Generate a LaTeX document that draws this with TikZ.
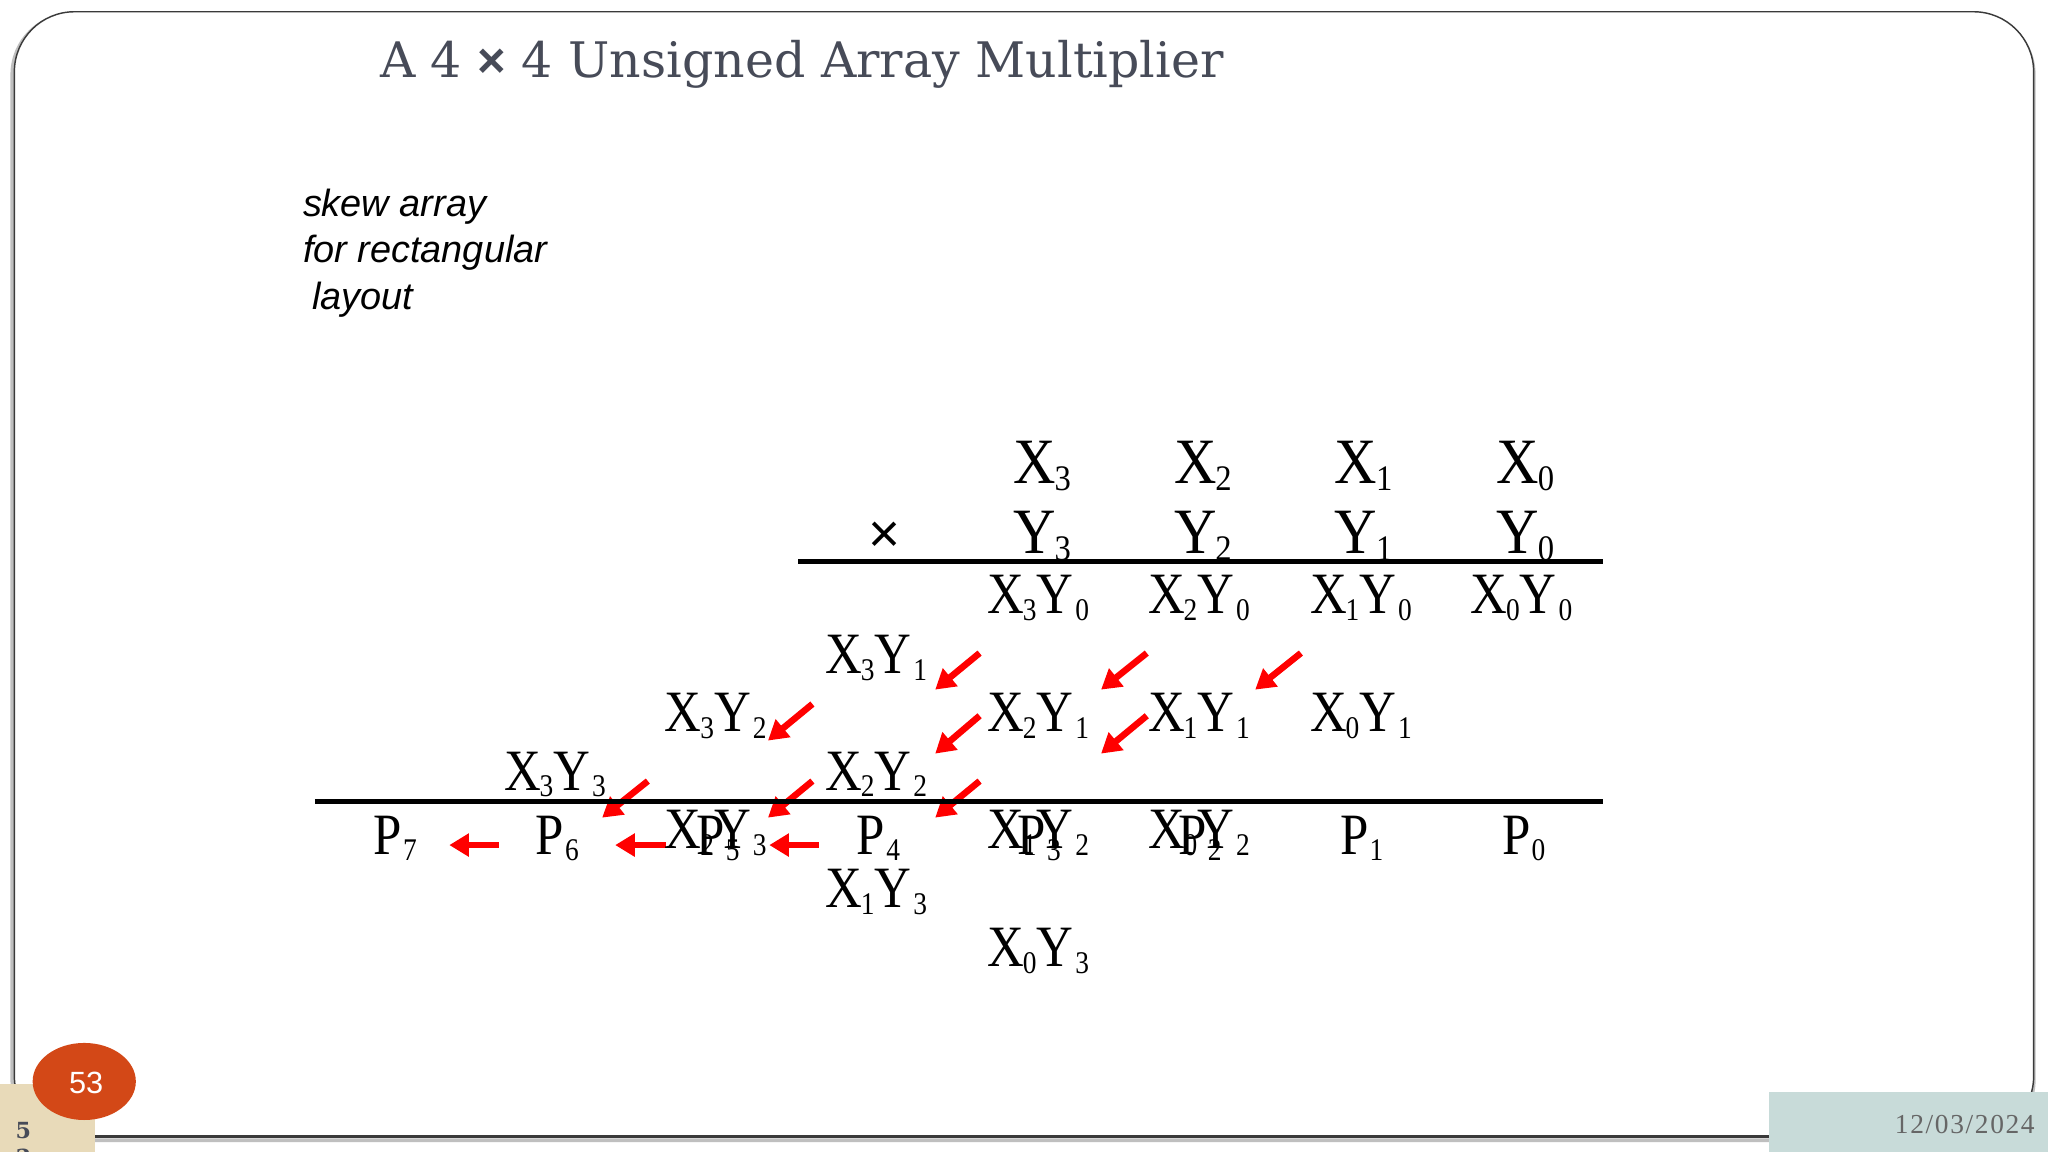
\documentclass[tikz,border=0pt]{standalone}
\usepackage{fontspec}
\usepackage{graphicx}
\usetikzlibrary{arrows.meta,shadows}
\setmainfont{Liberation Serif}
\newfontfamily\sansf{Liberation Sans}
\newfontfamily\titlef{DejaVu Serif}
\newfontfamily\datef[LetterSpace=6]{Liberation Serif}
\newcommand{\fsz}[1]{\fontsize{#1}{#1}\selectfont}
\newcommand{\subdigit}[2]{\raisebox{-4.5pt}{\fsz{#1}#2}}
% small product term, X_a Y_b
\newcommand{\prodterm}[2]{\scalebox{1}[1.15]{\fsz{39}X\hspace{-1pt}\subdigit{21}{#1}Y\hspace{1.5pt}\subdigit{21}{#2}}}
\newcommand{\pterm}[1]{\scalebox{1}[1.15]{\fsz{39}P\hspace{1pt}\subdigit{21}{#1}}}
\newcommand{\bigterm}[2]{\scalebox{1}[1.1]{\fsz{45}#1\hspace{-1pt}\raisebox{-5pt}{\fsz{25}#2}}}
\definecolor{framec}{HTML}{3A3A3A}
\definecolor{titlec}{HTML}{474B58}
\definecolor{arrowc}{HTML}{FF0000}
\definecolor{tanc}{HTML}{E8DAB9}
\definecolor{tealc}{HTML}{C8DBD9}
\definecolor{orangec}{HTML}{D34817}
\tikzset{
  x=1pt,y=-1pt,
  term/.style={anchor=base west,inner sep=0pt,outer sep=0pt,text=black},
  redarrow/.style={draw=arrowc,line width=5pt,-{Triangle[length=15pt,width=17pt,fill=arrowc]}},
  rulebar/.style={draw=black,line width=3.8pt},
}
\begin{document}
\begin{tikzpicture}
\useasboundingbox (0,0) rectangle (1568,882);
\begin{scope}
\clip (0,0) rectangle (1568,882);
\fill[white] (0,0) rectangle (1568,882);
% slide frame with soft shadow
\draw[black!25,line width=3pt,rounded corners=46pt] (9.5,11) rectangle (1557,873);
\draw[fill=white,draw=framec,line width=1.1pt,rounded corners=46pt] (11,9) rectangle (1557,870);
\draw[framec,line width=2pt] (60,870) -- (1400,870);
% title and note
\node[term,text=titlec] (title) at (291,59) {\titlef\fsz{37.5}A 4 {\sansf\bfseries ×} 4 Unsigned Array Multiplier};
\node[term] (note1) at (232,166) {\sansf\itshape\fsz{29}skew array};
\node[term] (note2) at (232,201) {\sansf\itshape\fsz{29}for rectangular};
\node[term] (note3) at (239,237) {\sansf\itshape\fsz{29}layout};
% red arrows
\foreach \n/\ax/\ay/\bx/\by in {
  a/750/500/716/528, b/878/500/843/528, c/996/500/961/528,
  d/622/539/588/567, e/750/548/716/577, f/878/548/843/577,
  g/496/598/461/626, h/622/598/588/626, i/750/598/716/626,
  j/382/647/344/647, k/510/647/471/647, l/627/647/589/647}{
  \coordinate (\n0) at (\ax,\ay);
  \coordinate (\n1) at (\bx,\by);
  \draw[redarrow] (\n0) -- (\n1);
}
% rules
\coordinate (r1a) at (611,430); \coordinate (r1b) at (1227,430);
\coordinate (r2a) at (241,613.5); \coordinate (r2b) at (1227,613.5);
\draw[rulebar] (r1a) -- (r1b);
\draw[rulebar] (r2a) -- (r2b);
% operands
\node[term] (x3) at (776,370) {\bigterm{X}{3}};
\node[term] (x2) at (899,370) {\bigterm{X}{2}};
\node[term] (x1) at (1022,370) {\bigterm{X}{1}};
\node[term] (x0) at (1146,370) {\bigterm{X}{0}};
\node[term] (y3) at (776,424) {\bigterm{Y}{3}};
\node[term] (y2) at (899,424) {\bigterm{Y}{2}};
\node[term] (y1) at (1022,424) {\bigterm{Y}{1}};
\node[term] (y0) at (1146,424) {\bigterm{Y}{0}};
\node[inner sep=0pt] (times) at (677,411) {\sansf\fsz{42}×};
% partial products
\foreach \a/\b/\px/\py in {
  3/0/756/470, 2/0/879/470, 1/0/1003/470, 0/0/1126/470,
  3/1/632/516, 2/1/756/560, 1/1/879/560, 0/1/1003/560,
  3/2/509/560, 2/2/632/605, 1/2/756/650, 0/2/879/650,
  3/3/386/605, 2/3/509/650, 1/3/632/695, 0/3/756/740}{
  \node[term] (pp\a\b) at (\px,\py) {\prodterm{\a}{\b}};
}
% product bits
\foreach \k/\px in {7/286,6/410,5/533,4/656,3/779,2/902,1/1026,0/1150}{
  \node[term] (p\k) at (\px,654) {\pterm{\k}};
}
% footer
\fill[tanc] (0,830) rectangle (73,882);
\node[term,align=center,text=titlec] (num) at (12,872) {\titlef\bfseries\fsz{17}5};
\node[term,text=titlec] (num2) at (12,892) {\titlef\bfseries\fsz{17}3};
\fill[orangec] (64.5,828) ellipse [x radius=39.5,y radius=29.5];
\node[inner sep=0pt,text=white] (badge) at (66,829) {\sansf\fsz{23.5}53};
\fill[tealc] (1354,836) rectangle (1568,882);
\node[anchor=base east,inner sep=0pt,text=black!60] (date) at (1558,868) {\datef\fsz{21}12/03/2024};
\end{scope}
\end{tikzpicture}
\end{document}
